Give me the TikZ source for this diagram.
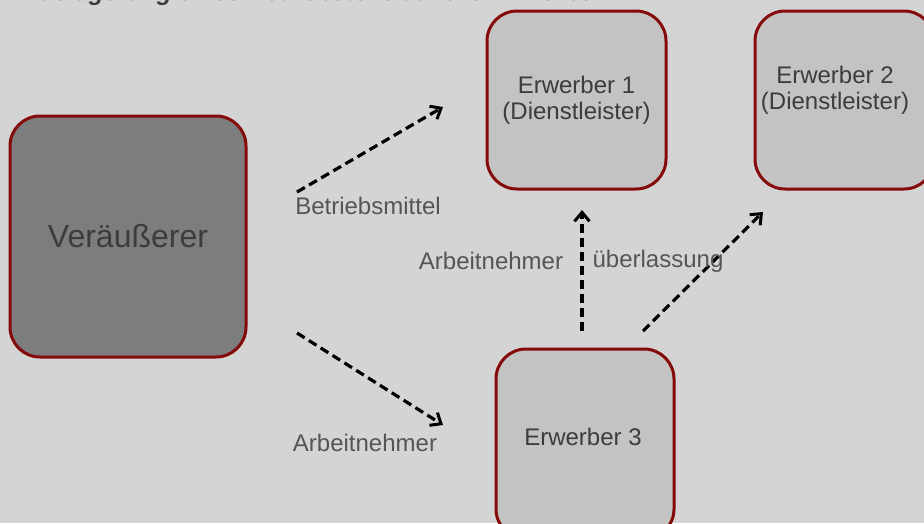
\documentclass[tikz,border=0pt]{standalone}
\usepackage{fontspec}
\setmainfont{Liberation Sans}
\usetikzlibrary{arrows.meta}
\definecolor{bg}{HTML}{D4D4D4}
\definecolor{boxred}{HTML}{850A0A}
\definecolor{darkfill}{HTML}{7D7D7D}
\definecolor{lightfill}{HTML}{C3C3C3}
\definecolor{txt}{HTML}{3C3C3C}
\definecolor{lbl}{HTML}{555555}
\tikzset{
  box/.style={draw=boxred, line width=3pt, rounded corners=30pt, align=center, text=txt, font=\fontsize{24}{26}\selectfont},
  flow/.style={line width=3.2pt, dash pattern=on 9pt off 5pt, -{Straight Barb[length=9pt,width=15pt,line width=3pt]}},
  lab/.style={text=lbl, font=\fontsize{24}{26}\selectfont, inner sep=0pt, align=center}
}
\begin{document}
\begin{tikzpicture}[x=1pt,y=-1pt]
\useasboundingbox (0,0) rectangle (924,523);
\clip (0,0) rectangle (924,523);
\fill[bg] (0,0) rectangle (924,523);
\node[anchor=base west, text=txt, font=\fontsize{24.5}{26}\selectfont\bfseries\itshape, inner sep=0pt] (title) at (22,0) {Auslagerung eines Betriebsteils auf drei Erwerber};
\node[box, fill=darkfill, minimum width=236pt, minimum height=241pt, font=\fontsize{32}{36}\selectfont] (v) at (128,236.5) {Veräußerer};
\node[box, fill=lightfill, minimum width=179pt, minimum height=178pt] (e1) at (576.5,100) {};
\node[lab, text=txt] (e1t) at (576.5,100) {Erwerber 1\\(Dienstleister)};
\node[box, fill=lightfill, minimum width=179pt, minimum height=178pt] (e2) at (844.5,100) {};
\node[lab, text=txt] (e2t) at (835,90) {Erwerber 2\\(Dienstleister)};
\node[box, fill=lightfill, minimum width=178pt, minimum height=190pt] (e3) at (585,444) {};
\node[lab, text=txt] (e3t) at (583,437) {Erwerber 3};
\coordinate (a1s) at (297,192); \coordinate (a1e) at (443,107);
\coordinate (a2s) at (297,333); \coordinate (a2e) at (443,425);
\coordinate (a3s) at (582,331); \coordinate (a3e) at (582,210);
\coordinate (a4s) at (643,331); \coordinate (a4e) at (763,212);
\draw[flow] (a1s) -- (a1e);
\draw[flow] (a2s) -- (a2e);
\draw[flow] (a3s) -- (a3e);
\draw[flow] (a4s) -- (a4e);
\node[lab] (l1) at (368,206) {Betriebsmittel};
\node[lab] (l2) at (365,443) {Arbeitnehmer};
\node[lab] (l3) at (491,261) {Arbeitnehmer};
\node[lab] (l4) at (658,261) {überlassung};
\end{tikzpicture}
\end{document}
